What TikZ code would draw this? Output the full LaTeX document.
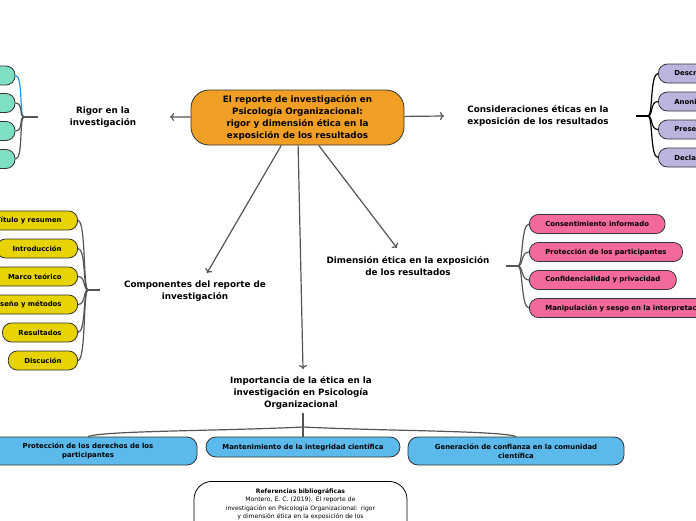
\documentclass[tikz,border=0pt]{standalone}
\usepackage{fontspec}
\setmainfont{DejaVu Sans}
\usetikzlibrary{arrows.meta}
\definecolor{corange}{HTML}{F19F24}
\definecolor{cteal}{HTML}{7EDFC5}
\definecolor{clav}{HTML}{BBB4DE}
\definecolor{cyel}{HTML}{E6D300}
\definecolor{cpink}{HTML}{F2699B}
\definecolor{cblue}{HTML}{5BB9EB}
\definecolor{cline}{HTML}{555555}
\definecolor{cselect}{HTML}{2A93E0}
\definecolor{cborder}{HTML}{333333}
\begin{document}
\begin{tikzpicture}[x=1pt,y=-1pt,
  topic/.style={align=center,font=\bfseries\fontsize{8.8}{12}\selectfont,inner sep=0pt},
  central/.style={draw=cborder,line width=0.8pt,fill=corange,rounded corners=18pt,
    minimum width=213pt,minimum height=55pt,align=center,inner sep=0pt,
    font=\bfseries\fontsize{8.8}{12}\selectfont},
  leaf/.style={draw=cborder,line width=0.8pt,rounded corners=9pt,minimum height=19pt,
    inner xsep=16pt,inner ysep=0pt,font=\bfseries\fontsize{6.9}{9}\selectfont},
  bluebox/.style={draw=cborder,line width=0.8pt,rounded corners=10pt,fill=cblue,
    align=center,inner sep=0pt,font=\bfseries\fontsize{6.9}{9}\selectfont},
  arr/.style={draw=cline,line width=1.2pt,-{To[length=4pt,width=8pt]}},
  conn/.style={draw=cline,line width=1.2pt},
  connk/.style={draw=black,line width=1.5pt}]
\useasboundingbox (0,0) rectangle (696,520);
\clip (0,0) rectangle (696,520);

% central
\node[central] (c) at (297.5,117.5) {El reporte de investigación en\\Psicología Organizacional:\\rigor y dimensión ética en la\\exposición de los resultados};

% topics
\node[topic] (rig) at (103,117.5) {Rigor en la\\investigación};
\node[topic] (cons) at (538,115.5) {Consideraciones éticas en la\\exposición de los resultados};
\node[topic] (comp) at (195,291) {Componentes del reporte de\\investigación};
\node[topic] (dim) at (408,266.5) {Dimensión ética en la exposición\\de los resultados};
\node[topic] (imp) at (301,392.5) {Importancia de la ética en la\\investigación en Psicología\\Organizacional};

\coordinate (rigIn) at (170,117);
\coordinate (consIn) at (444,116);
\coordinate (compIn) at (207,273);
\coordinate (dimIn) at (397,248);
\coordinate (impIn) at (303,369);

\draw[arr] (c) -- (rigIn);
\draw[arr] (c) -- (consIn);
\draw[arr] (c) -- (compIn);
\draw[arr] (c) -- (dimIn);
\draw[arr] (c) -- (impIn);

% Rigor children (teal)
\foreach \i/\y in {1/75.5,2/103,3/131,4/159}{
  \node[leaf,fill=cteal,minimum width=40pt] (t\i) at (-5,\y) {};
}
\coordinate (rigHubA) at (38,117);
\coordinate (rigHub) at (24,117);
\draw[conn] (rigHubA) -- (rigHub);
\draw[draw=cselect,line width=1.2pt] (rigHub) .. controls +(-5,0) and +(8,0) .. (t1.east);
\foreach \i in {2,3,4}{
  \draw[conn] (rigHub) .. controls +(-5,0) and +(8,0) .. (t\i.east);
}

% Consideraciones children (lavender)
\foreach \i/\y/\t in {1/73.5/Descr,2/101.5/Anoni,3/129.5/Prese,4/157.5/Decla}{
  \node[leaf,fill=clav,anchor=west,text width=64pt,align=left] (l\i) at (658,\y) {\t};
}
\coordinate (consHubA) at (636,116);
\coordinate (consHub) at (648,116);
\draw[connk] (consHubA) -- (consHub);
\foreach \i in {1,2,3,4}{
  \draw[draw=black,line width=1.2pt] (consHub) .. controls +(5,0) and +(-8,0) .. (l\i.west);
}

% Componentes children (yellow)
\foreach \i/\y/\t in {1/220.5/Título y resumen,2/248.5/Introducción,3/276.5/Marco teórico,4/304.5/Diseño y métodos,5/332.5/Resultados,6/360.5/Discución}{
  \node[leaf,fill=cyel,anchor=east] (y\i) at (78,\y) {\t};
}
\coordinate (compHubA) at (100,290);
\coordinate (compHub) at (88,290);
\draw[conn] (compHubA) -- (compHub);
\foreach \i in {1,...,6}{
  \draw[conn] (compHub) .. controls +(-5,0) and +(8,0) .. (y\i.east);
}

% Dimension children (pink)
\foreach \i/\y/\t in {1/224/Consentimiento informado,2/252/Protección de los participantes,3/280/Confidencialidad y privacidad,4/308/Manipulación y sesgo en la interpretación}{
  \node[leaf,fill=cpink,anchor=west] (p\i) at (529,\y) {\t};
}
\coordinate (dimHubA) at (506,266);
\coordinate (dimHub) at (518,266);
\draw[conn] (dimHubA) -- (dimHub);
\foreach \i in {1,...,4}{
  \draw[conn] (dimHub) .. controls +(5,0) and +(-8,0) .. (p\i.west);
}

% Importancia children (blue)
\node[bluebox,minimum width=218pt,minimum height=28pt] (b1) at (88,451) {Protección de los derechos de los\\participantes};
\node[bluebox,minimum width=194pt,minimum height=20pt] (b2) at (303,447) {Mantenimiento de la integridad científica};
\node[bluebox,minimum width=216pt,minimum height=28pt] (b3) at (516,451) {Generación de confianza en la comunidad\\científica};
\coordinate (impOut) at (303,413);
\coordinate (impJ) at (303,427);
\draw[conn] (impOut) -- (b2.north);
\draw[conn] (impJ) .. controls +(-80,4) and +(15,-6) .. (b1.north);
\draw[conn] (impJ) .. controls +(80,4) and +(-15,-6) .. (b3.north);

% References
\node[draw=black,line width=0.8pt,fill=white,rounded corners=18pt,anchor=north,
  minimum width=213pt,text width=200pt,align=center,
  inner xsep=6pt,inner ysep=7pt,text depth=40pt,
  font=\fontsize{6.1}{8.5}\selectfont] (ref) at (300.5,481)
  {{\bfseries Referencias bibliográficas}\\Montero, E. C. (2019). El reporte de\\investigación en Psicología Organizacional: rigor\\y dimensión ética en la exposición de los};
\end{tikzpicture}
\end{document}
